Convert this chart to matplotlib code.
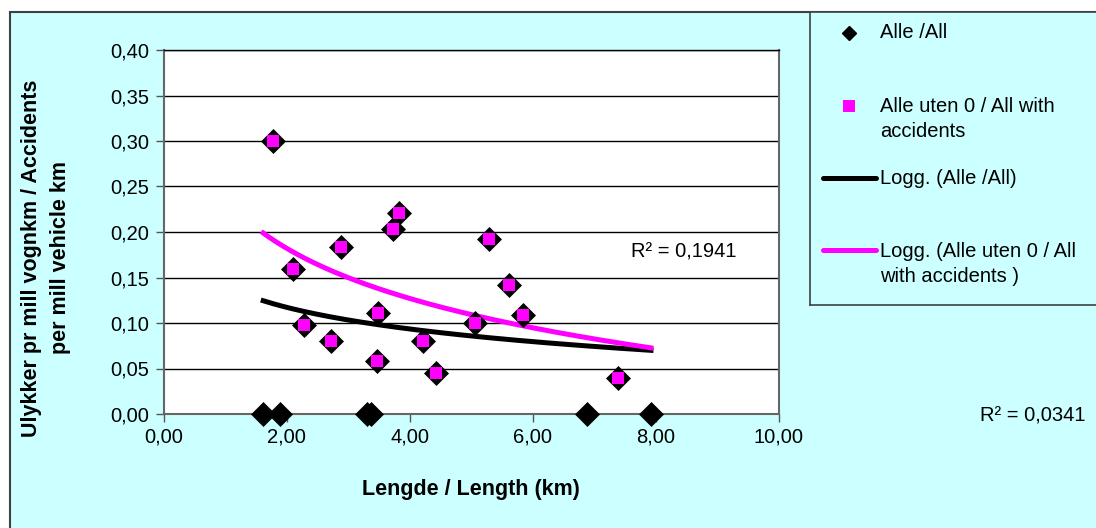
import numpy as np
import matplotlib.pyplot as plt
from matplotlib.patches import Rectangle

plt.rcParams['font.family'] = ['Liberation Sans', 'DejaVu Sans']

# Length of road section (km) and accidents per mill vehicle km
length_km = [1.62, 1.90, 3.30, 3.37, 6.88, 7.92,
             1.78, 2.10, 2.29, 2.72, 2.88, 3.47, 3.49, 3.73, 3.83, 4.21,
             4.42, 5.06, 5.29, 5.62, 5.84, 7.38]
rate_all = [0.0, 0.0, 0.0, 0.0, 0.0, 0.0,
            0.300, 0.159, 0.098, 0.080, 0.183, 0.058, 0.111, 0.203, 0.221, 0.080,
            0.045, 0.100, 0.192, 0.142, 0.109, 0.040]

x_ticks = [0, 2, 4, 6, 8, 10]
y_ticks = [0, 0.05, 0.10, 0.15, 0.20, 0.25, 0.30, 0.35, 0.40]

r2_with_acc = 'R² = 0,1941'
r2_all = 'R² = 0,0341'

length_km = np.array(length_km)
rate_all = np.array(rate_all)
has_acc = rate_all > 0


def log_trend(x, y, x_new):
    b, a = np.polyfit(np.log(x), y, 1)
    return a + b * np.log(x_new)


x_fit = np.linspace(length_km.min(), length_km.max(), 200)
fit_all = log_trend(length_km, rate_all, x_fit)
fit_acc = log_trend(length_km[has_acc], rate_all[has_acc], x_fit)

W, H = 1096, 528
cyan = '#CCFFFF'
pink = '#FF00FF'
fs = 14.5
fs_title = 15.5

fig = plt.figure(figsize=(W / 100, H / 100), dpi=100)
fig.patch.set_facecolor('white')
fig.patches.append(Rectangle((10 / W, -0.05), 1.1, 1.05 - 12 / H,
                             transform=fig.transFigure, facecolor=cyan,
                             edgecolor='#404040', lw=1.5, zorder=-10))

ax = fig.add_axes([163.5 / W, 1 - 414 / H, (779 - 163.5) / W, (414 - 50) / H])
ax.set_facecolor('white')

ax.plot(x_fit, fit_all, color='black', lw=3.6, zorder=2)
ax.plot(x_fit, fit_acc, color=pink, lw=3.6, zorder=2)
ax.plot(length_km, rate_all, 'D', ms=12.5, color='black', mec='black',
        mew=0.5, zorder=3, clip_on=False)
ax.plot(length_km[has_acc], rate_all[has_acc], 's', ms=8.5, color=pink,
        mew=0, zorder=4)

ax.set_xlim(0, 10)
ax.set_ylim(0, 0.40)
ax.set_xticks(x_ticks)
ax.set_xticklabels([f'{v:.2f}'.replace('.', ',') for v in x_ticks])
ax.set_yticks(y_ticks)
ax.set_yticklabels([f'{v:.2f}'.replace('.', ',') for v in y_ticks])
ax.yaxis.grid(True, color='black', lw=1.0)
ax.set_axisbelow(True)
ax.tick_params(direction='out', length=6, width=1, color='#555555',
               labelsize=fs, pad=4)
for side in ['left', 'bottom', 'right']:
    ax.spines[side].set_color('#666666')
    ax.spines[side].set_linewidth(1.5)
ax.spines['top'].set_color('black')
ax.spines['top'].set_linewidth(1.0)

ax.text(7.6, 0.178, r2_with_acc, fontsize=fs, va='center', ha='left')
fig.text(980 / W, 1 - 416 / H, r2_all, fontsize=fs, va='center', ha='left')

fig.text(471 / W, 1 - 490 / H, 'Lengde / Length (km)', fontsize=fs_title,
         fontweight='bold', ha='center', va='center')
fig.text(46 / W, 1 - 258 / H,
         'Ulykker pr mill vognkm / Accidents\nper mill vehicle km',
         fontsize=fs_title, fontweight='bold', rotation=90, ha='center',
         va='center', multialignment='center', linespacing=1.55)

# legend box
lax = fig.add_axes([810 / W, 1 - 305 / H, (1130 - 810) / W, (305 - 12) / H])
lax.set_facecolor(cyan)
lax.set_xlim(810, 1130)
lax.set_ylim(305, 12)
lax.set_xticks([])
lax.set_yticks([])
for sp in lax.spines.values():
    sp.set_color('#404040')
    sp.set_linewidth(1.2)

lax.plot([849], [33], 'D', ms=7, color='black')
lax.text(880, 33, 'Alle /All', fontsize=fs, va='center')
lax.plot([849], [106], 's', ms=8.5, color=pink, mew=0)
lax.text(880, 119, 'Alle uten 0 / All with\naccidents', fontsize=fs,
         va='center', linespacing=1.35)
lax.plot([823, 876], [178, 178], color='black', lw=3.6, solid_capstyle='round')
lax.text(880, 178, 'Logg. (Alle /All)', fontsize=fs, va='center')
lax.plot([823, 876], [250, 250], color=pink, lw=3.6, solid_capstyle='round')
lax.text(880, 264, 'Logg. (Alle uten 0 / All\nwith accidents )', fontsize=fs,
         va='center', linespacing=1.35)

fig.savefig('out.png', dpi=100)
